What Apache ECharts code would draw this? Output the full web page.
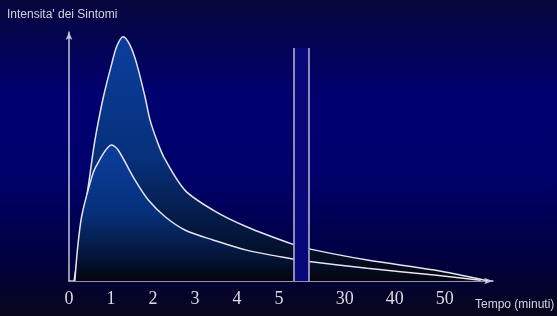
<!DOCTYPE html>
<html>
<head>
<meta charset="utf-8">
<script src="https://cdn.jsdelivr.net/npm/echarts@6/dist/echarts.min.js"></script>
<style>
  html, body { margin: 0; padding: 0; background: #000050; }
  #chart { width: 557px; height: 316px; }
</style>
</head>
<body>
<div id="chart"></div>
<script>
// tempo (minuti) e intensita'
var tempoAlto = [0.12, 0.24, 0.36, 0.48, 0.58, 0.66, 0.82, 1.02, 1.14, 1.29, 1.45, 1.61, 1.81, 1.93, 2.09, 2.27, 2.76, 3.43, 4.23, 5.34, 22.86, 34.5, 47.9, 58.5];
var intensitaAlta = [0, 13.5, 27, 40.5, 52.6, 60.6, 74, 87.4, 94.4, 98.1, 94.8, 87.4, 74, 64.7, 56.6, 49.4, 36.5, 28.5, 21.8, 14.7, 12.9, 8.4, 4.4, 0.1];

var tempoBasso = [0.14, 0.2, 0.3, 0.5, 0.64, 1.02, 1.17, 1.57, 1.89, 2.29, 2.76, 3.43, 4.23, 5.34, 22.86, 34.5, 47.9, 57.2];
var intensitaBassa = [0, 12.4, 25.8, 39.2, 45.9, 54.6, 52.6, 40.6, 32.5, 25.8, 20.5, 16.5, 12.4, 8.8, 7.8, 5.1, 2.4, 0.3];

var tickTempo = [0, 1, 2, 3, 4, 5, 30, 40, 50];

// interruzione dell'asse: da 5.35 a 22.86 minuti, poi scala compressa
var BREAK_START = 5.35;
var BREAK_END = 22.86;
var GAP = 0.37;
var K2 = 5 / 42;
var BREAK_TOP = 93.6;

function toAxis(t) {
    if (t <= BREAK_START) return t;
    return BREAK_START + GAP + (t - BREAK_END) * K2;
}
function fromAxis(v) {
    if (v <= BREAK_START + 0.001) return v;
    return BREAK_END + (v - BREAK_START - GAP) / K2;
}
function pairs(xs, ys) {
    var out = [];
    for (var i = 0; i < xs.length; i++) {
        out.push([toAxis(xs[i]), ys[i]]);
    }
    return out;
}

var areaGrad = {
    type: 'linear', x: 0, y: 0, x2: 0, y2: 1,
    colorStops: [
        { offset: 0, color: '#0b3e9e' },
        { offset: 0.5, color: '#06307a' },
        { offset: 0.85, color: '#041232' },
        { offset: 1, color: '#03030c' }
    ]
};

var myChart = echarts.init(document.getElementById('chart'));
var option = {
    animation: false,
    graphic: [{
        type: 'rect',
        z: -10,
        silent: true,
        shape: { x: 0, y: 0, width: 557, height: 316 },
        style: {
            fill: {
                type: 'linear', x: 0, y: 0, x2: 0, y2: 1,
                colorStops: [
                    { offset: 0, color: '#06063c' },
                    { offset: 0.3, color: '#000070' },
                    { offset: 0.55, color: '#00006c' },
                    { offset: 0.82, color: '#000040' },
                    { offset: 1, color: '#06061c' }
                ]
            }
        }
    }],
    title: [{
        text: "Intensita' dei Sintomi",
        left: 2, top: 4,
        textStyle: { color: '#d4d4dc', fontSize: 12, fontWeight: 'normal', fontFamily: 'Liberation Sans' }
    }, {
        text: 'Tempo (minuti)',
        left: 470, top: 294,
        textStyle: { color: '#d4d4dc', fontSize: 12, fontWeight: 'normal', fontFamily: 'Liberation Sans' }
    }],
    grid: { left: 69, right: 64, top: 32, bottom: 35 },
    xAxis: {
        type: 'value',
        min: 0,
        max: 10.1,
        axisLine: {
            lineStyle: { color: '#c4c4d4', width: 1.5 },
            symbol: ['none', 'arrow'],
            symbolSize: [5, 9]
        },
        axisTick: { show: false },
        splitLine: { show: false },
        axisLabel: {
            customValues: tickTempo.map(toAxis),
            formatter: function (v) { return String(Math.round(fromAxis(v))); },
            color: '#dcdce4',
            fontSize: 18,
            fontFamily: 'Liberation Serif',
            margin: 9
        }
    },
    yAxis: {
        type: 'value',
        min: 0,
        max: 100,
        axisLine: {
            show: true,
            lineStyle: { color: '#c4c4d4', width: 1.5 },
            symbol: ['none', 'arrow'],
            symbolSize: [5, 8]
        },
        axisTick: { show: false },
        axisLabel: { show: false },
        splitLine: { show: false }
    },
    series: [
        {
            name: 'alta',
            type: 'line',
            smooth: 0.3,
            symbol: 'none',
            z: 2,
            lineStyle: { color: '#e4e4f0', width: 1.5 },
            areaStyle: { color: areaGrad, opacity: 1 },
            data: pairs(tempoAlto, intensitaAlta)
        },
        {
            name: 'bassa',
            type: 'line',
            smooth: 0.3,
            symbol: 'none',
            z: 3,
            lineStyle: { color: '#e4e4f0', width: 1.5 },
            areaStyle: { color: areaGrad, opacity: 1 },
            data: pairs(tempoBasso, intensitaBassa)
        },
        {
            name: 'interruzione',
            type: 'line',
            z: 10,
            data: [],
            markArea: {
                silent: true,
                z: 10,
                itemStyle: { color: '#08087a', opacity: 1, borderWidth: 0 },
                data: [[{ coord: [BREAK_START, 0] }, { coord: [BREAK_START + GAP, BREAK_TOP] }]]
            },
            markLine: {
                silent: true,
                z: 11,
                symbol: 'none',
                label: { show: false },
                lineStyle: { color: '#b8b8cc', width: 1.5, type: 'solid', opacity: 1 },
                data: [
                    [{ coord: [BREAK_START, 0] }, { coord: [BREAK_START, BREAK_TOP] }],
                    [{ coord: [BREAK_START + GAP, 0] }, { coord: [BREAK_START + GAP, BREAK_TOP] }]
                ]
            }
        }
    ]
};
window.onresize = myChart.resize;
myChart.setOption(option);
</script>
</body>
</html>
